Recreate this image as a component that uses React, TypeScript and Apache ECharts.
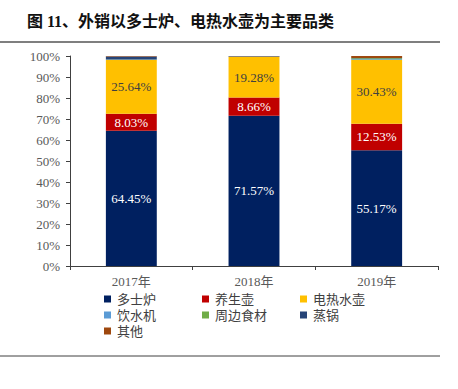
import React, { useEffect, useRef } from "react";
import * as echarts from "echarts";

const categories = ["2017年", "2018年", "2019年"];
const seriesNames = ["多士炉", "养生壶", "电热水壶", "饮水机", "周边食材", "蒸锅", "其他"];
const duoShiLu = [64.45, 71.57, 55.17];
const yangShengHu = [8.03, 8.66, 12.53];
const dianReShuiHu = [25.64, 19.28, 30.43];
const yinShuiJi = [0.1, 0.05, 0.3];
const zhouBianShiCai = [0.1, 0.05, 0.5];
const zhengGuo = [1.4, 0.3, 0.07];
const qiTa = [0.28, 0.09, 1.0];
const colors = ["#002060", "#C00000", "#FFC000", "#5B9BD5", "#70AD47", "#264478", "#9E480E"];
const yTicks = [0, 10, 20, 30, 40, 50, 60, 70, 80, 90, 100];

const serif = "'Liberation Serif', 'Noto Sans CJK SC', serif";

export default function App() {
  const ref = useRef<HTMLDivElement>(null);
  useEffect(() => {
    if (!ref.current) return;
    const chart = echarts.init(ref.current, null, { renderer: "svg" });
    const data = [duoShiLu, yangShengHu, dianReShuiHu, yinShuiJi, zhouBianShiCai, zhengGuo, qiTa];
    const labelIdx: Record<number, string> = { 0: "#ffffff", 1: "#ffffff", 2: "#404040" };
    const columns = [
      [seriesNames[0], seriesNames[3], seriesNames[6]],
      [seriesNames[1], seriesNames[4]],
      [seriesNames[2], seriesNames[5]],
    ];
    const colLeft = [104, 202, 300];
    chart.setOption({
      animation: false,
      color: colors,
      title: {
        text: "图 11、外销以多士炉、电热水壶为主要品类",
        left: 22,
        top: 8,
        textStyle: { fontFamily: serif, fontSize: 16, fontWeight: "bold", color: "#111" },
      },
      graphic: [
        { type: "line", shape: { x1: 0, y1: 42, x2: 440, y2: 42 }, style: { stroke: "#7f7f7f", lineWidth: 2 } },
        { type: "line", shape: { x1: 0, y1: 356, x2: 440, y2: 356 }, style: { stroke: "#404040", lineWidth: 1 } },
      ],
      grid: { left: 70, right: 20, top: 56, bottom: 123 },
      legend: columns.map((col, ci) => ({
        left: colLeft[ci],
        top: 291,
        orient: "vertical",
        itemWidth: 7,
        itemHeight: 7,
        itemGap: 0,
        padding: 0,
        icon: "rect",
        data: col,
        textStyle: { fontFamily: serif, fontSize: 13, color: "#404040", lineHeight: 16, padding: [0, 0, 0, 1] },
      })),
      xAxis: {
        type: "category",
        data: categories,
        axisLine: { lineStyle: { color: "#404040" } },
        axisTick: { show: true, inside: false, length: 4, lineStyle: { color: "#404040" } },
        axisLabel: { fontFamily: serif, fontSize: 13, color: "#595959", margin: 9 },
      },
      yAxis: {
        type: "value",
        min: 0,
        max: 100,
        interval: 10,
        axisLine: { show: true, lineStyle: { color: "#404040" } },
        axisTick: { show: true, length: 4, lineStyle: { color: "#404040" } },
        splitLine: { show: false },
        axisLabel: {
          fontFamily: serif,
          fontSize: 13,
          color: "#595959",
          margin: 10,
          formatter: (v: number) => (yTicks.includes(v) ? v + "%" : ""),
        },
      },
      series: seriesNames.map((name, i) => ({
        name,
        type: "bar",
        stack: "total",
        barWidth: "41.5%",
        data: data[i],
        label: labelIdx[i]
          ? {
              show: true,
              position: "inside",
              color: labelIdx[i],
              fontFamily: serif,
              fontSize: 13,
              formatter: (p: any) => p.value.toFixed(2) + "%",
            }
          : { show: false },
      })),
    });
    return () => chart.dispose();
  }, []);
  return (
    <div
      ref={ref}
      style={{ position: "absolute", left: 0, top: 0, width: 458, height: 389, background: "#fff" }}
    />
  );
}
